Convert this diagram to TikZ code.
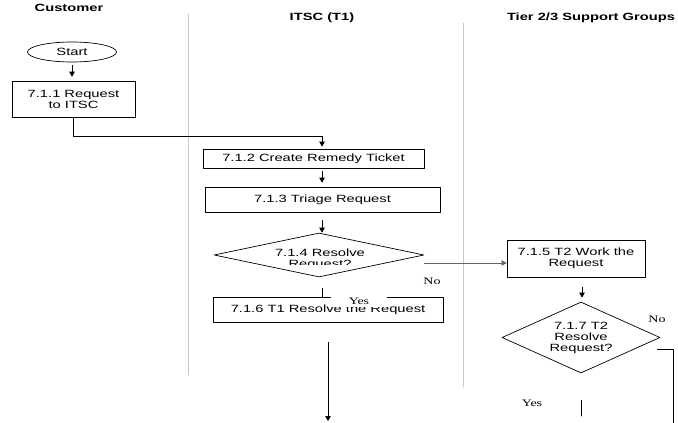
\documentclass[tikz,border=0pt]{standalone}
\usepackage{fontspec}
\setmainfont{Liberation Sans}[FakeStretch=1.4]
\newfontfamily\ynfont{Liberation Serif}[FakeStretch=1.4]
\usetikzlibrary{shapes.geometric,arrows.meta}

\tikzset{
  box/.style={draw,inner sep=0pt,align=center},
  decision/.style={draw,diamond,inner sep=0pt,align=center},
  arr/.style={-{Triangle[length=5pt,width=5.5pt]}},
  lane/.style={draw=black!22,line width=1pt},
  lanehead/.style={font=\fontsize{10.5}{11}\selectfont\bfseries},
  yn/.style={font=\ynfont\fontsize{10}{11}\selectfont,inner sep=1pt}
}

\begin{document}
\begin{tikzpicture}[x=1pt,y=-1pt,line width=0.7pt,line cap=round,line join=round,
  every node/.style={font=\fontsize{10.5}{11}\selectfont}]
  \useasboundingbox (0,0) rectangle (678,423);
  % lanes
  \draw[lane] (188,14) -- (188,375);
  \draw[lane] (463,23) -- (463,387);
  \node[lanehead] (hcust) at (69,8) {Customer};
  \node[lanehead] (hitsc) at (322,18) {ITSC (T1)};
  \node[lanehead] (htier) at (591,18) {Tier 2/3 Support Groups};
  \coordinate (colA) at (322,0);
  \coordinate (colB) at (582,0);
  \coordinate (endA) at (328,421);
  \coordinate (endB) at (581,416);
  \coordinate (endC) at (673,423);
  % steps
  \node[draw,ellipse,inner sep=0pt,minimum width=89pt,minimum height=20pt] (s) at (72,52) {Start};
  \node[box,minimum width=123pt,minimum height=36pt] (r711) at (73.5,99) {7.1.1 Request\\to ITSC};
  \node[box,minimum width=221pt,minimum height=19pt] (r712) at (313.5,158.5) {7.1.2 Create Remedy Ticket};
  \node[box,minimum width=235pt,minimum height=25pt] (r713) at (322.5,199.5) {7.1.3 Triage Request};
  \node[decision,minimum width=210pt,minimum height=44pt] (d714) at (319,255) {};
  \begin{scope}
    \clip (210,240) rectangle (430,264);
    \node[inner sep=0pt,align=center] (t714) at (320,259) {7.1.4 Resolve\\Request?};
  \end{scope}
  \node[box,minimum width=138pt,minimum height=37pt] (r715) at (576,258.5) {7.1.5 T2 Work the\\Request};
  \node[box,minimum width=230pt,minimum height=25pt] (r716) at (328,309.5) {\raisebox{2.5pt}{7.1.6 T1 Resolve the Request}};
  \node[decision,aspect=2.2,minimum width=158pt,minimum height=71pt] (d717) at (581,337.5) {7.1.7 T2\\Resolve\\Request?};
  % connectors
  \draw[arr,shorten <=3pt,shorten >=4pt] (s.south) -- (s.south |- r711.north);
  \draw[arr,shorten >=2pt] (r711.south) -- ++(0,19) -| (colA |- r712.north);
  \draw[arr,shorten <=3pt,shorten >=4pt] (colA |- r712.south) -- (colA |- r713.north);
  \draw[arr,shorten <=8pt] (colA |- r713.south) -- (colA |- d714.north);
  \draw[shorten <=11pt] (colA |- d714.south) -- (colA |- r716.north);
  \draw[arr,draw=black!60,line width=0.5pt] ([shift={(0,8)}]d714.east) -- ([shift={(0,4.5)}]r715.west);
  \draw[arr,shorten <=20pt] (endA |- r716.south) -- (endA);
  \draw[arr,shorten <=10pt,shorten >=4pt] (colB |- r715.south) -- (colB |- d717.north);
  \draw ([shift={(-3,11.5)}]d717.east) -| (endC);
  \draw[shorten <=27pt] (d717.south) -- (endB);
  % labels
  \node[yn] (no1) at (432,281) {No};
  \node[yn,fill=white,inner xsep=18pt,inner ysep=2.5pt] (yes1) at (359,301) {Yes};
  \node[yn] (no2) at (657,319) {No};
  \node[yn] (yes2) at (532,403) {Yes};
\end{tikzpicture}
\end{document}
